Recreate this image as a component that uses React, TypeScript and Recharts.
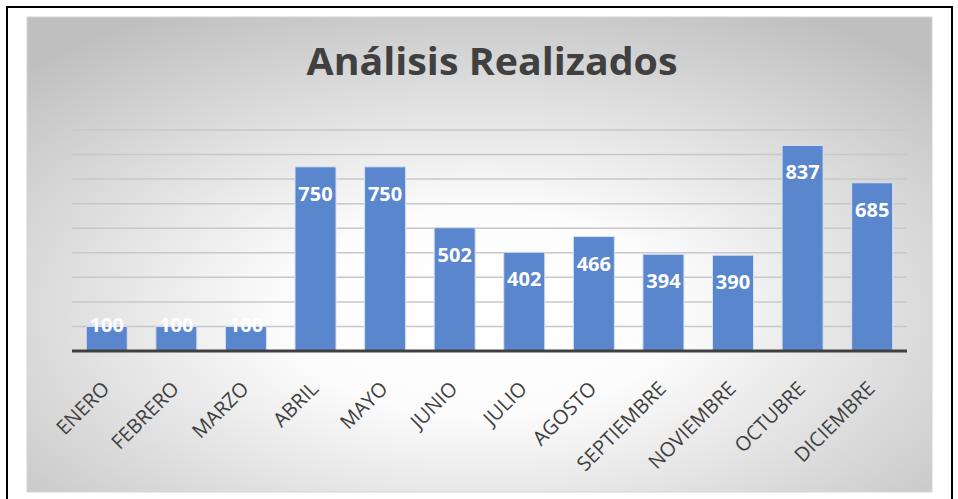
import { BarChart, Bar, XAxis, YAxis, CartesianGrid, LabelList } from "recharts";

const months = [
  "ENERO",
  "FEBRERO",
  "MARZO",
  "ABRIL",
  "MAYO",
  "JUNIO",
  "JULIO",
  "AGOSTO",
  "SEPTIEMBRE",
  "NOVIEMBRE",
  "OCTUBRE",
  "DICIEMBRE",
];
const analisis = [100, 100, 100, 750, 750, 502, 402, 466, 394, 390, 837, 685];
const yTicks = [0, 100, 200, 300, 400, 500, 600, 700, 800, 900];

const data = months.map((mes, i) => ({ mes, analisis: analisis[i] }));

const FONT = "'Open Sans', sans-serif";
const TEXT = "#404040";

function MonthTick({ x, y, payload }: any) {
  const tx = x + 4;
  const ty = y + 39;
  return (
    <text
      x={tx}
      y={ty}
      transform={`rotate(-45, ${tx}, ${ty})`}
      textAnchor="end"
      fontFamily={FONT}
      fontSize={20}
      fill={TEXT}
    >
      {payload.value}
    </text>
  );
}

function ValueLabel({ x, y, width, height, value }: any) {
  // short bars: excel pushes the label up onto the top edge
  const dy = height > 40 ? 34 : 6;
  return (
    <text
      x={x + width / 2}
      y={y + dy}
      textAnchor="middle"
      fontFamily={FONT}
      fontWeight={700}
      fontSize={20}
      fill="#ffffff"
    >
      {value}
    </text>
  );
}

export default function App() {
  return (
    <div
      style={{
        position: "absolute",
        left: 0,
        top: 0,
        width: 958,
        height: 499,
        overflow: "hidden",
        background: "#ffffff",
      }}
    >
      <svg
        width={958}
        height={499}
        style={{ position: "absolute", left: 0, top: 0 }}
      >
        <defs>
          <radialGradient id="bg" cx="0.5" cy="0.62" r="0.72">
            <stop offset="0" stopColor="#ffffff" />
            <stop offset="0.3" stopColor="#fcfcfc" />
            <stop offset="1" stopColor="#bfbfbf" />
          </radialGradient>
        </defs>
        <rect x={7} y={7} width={945} height={600} fill="#ffffff" stroke="#000000" strokeWidth={2} />
        <rect x={27} y={17} width={905} height={475} fill="url(#bg)" stroke="#d4d4d4" strokeWidth={1} />
        <text
          x={492}
          y={75}
          textAnchor="middle"
          fontFamily={FONT}
          fontWeight={700}
          fontSize={37}
          fill={TEXT}
          textLength={371}
          lengthAdjust="spacingAndGlyphs"
        >
          Análisis Realizados
        </text>
      </svg>
      <div style={{ position: "absolute", left: 0, top: 0 }}>
        <BarChart
          width={958}
          height={499}
          data={data}
          margin={{ top: 130, right: 51, bottom: 0, left: 72 }}
          barCategoryGap="20.5%"
        >
          <CartesianGrid vertical={false} stroke="#c8c8c8" strokeWidth={1.5} />
          <YAxis hide domain={[0, 900]} ticks={yTicks} />
          <XAxis
            dataKey="mes"
            height={148}
            interval={0}
            tickLine={false}
            tickSize={0}
            tickMargin={0}
            axisLine={{ stroke: TEXT, strokeWidth: 3 }}
            tick={<MonthTick />}
          />
          <Bar
            dataKey="analisis"
            fill="#5a86cd"
            stroke="#d6e0f2"
            strokeWidth={1}
            isAnimationActive={false}
          >
            <LabelList dataKey="analisis" content={<ValueLabel />} />
          </Bar>
        </BarChart>
      </div>
    </div>
  );
}
